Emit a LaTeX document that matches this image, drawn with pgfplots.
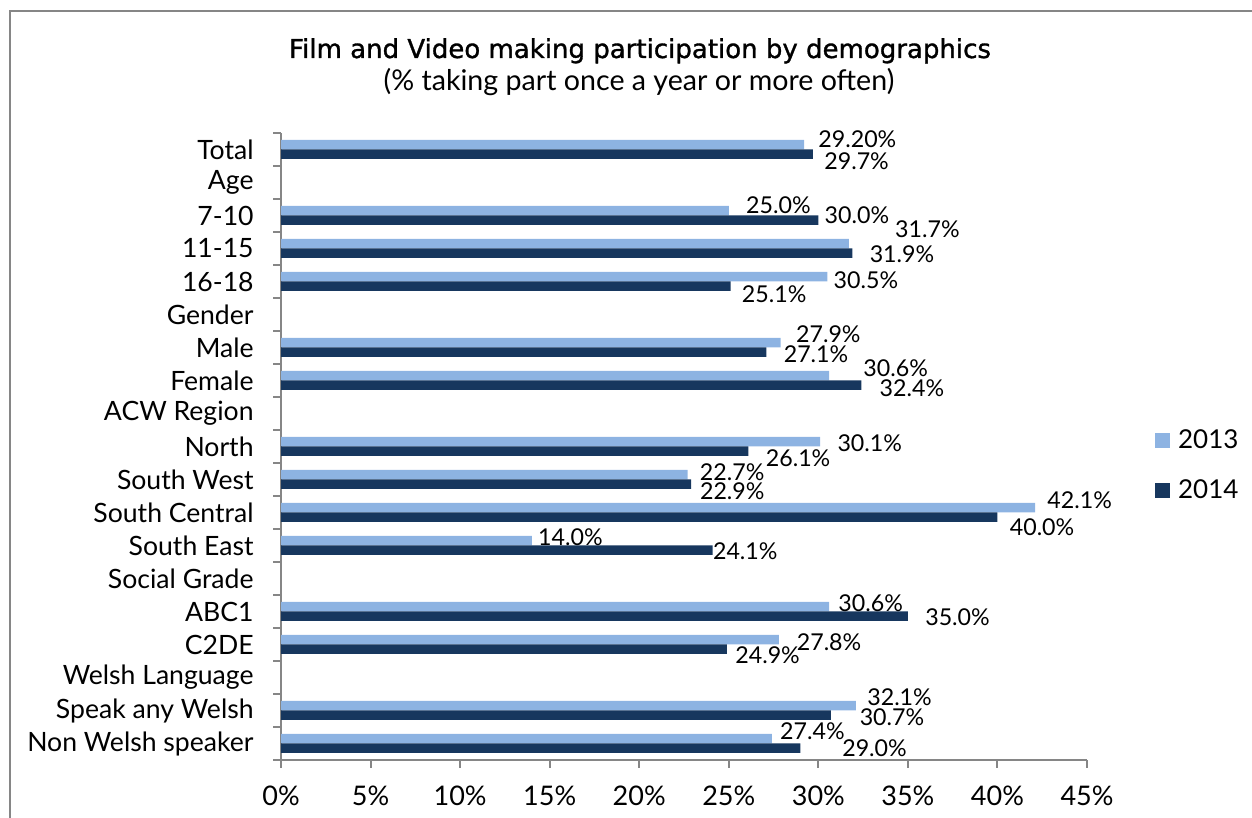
\documentclass[border=0pt]{standalone}
\usepackage{pgfplots}
\pgfplotsset{compat=1.18}
\usepackage{pgfplotstable}
\usepackage{fontspec}
\setmainfont{Lato}
\newfontfamily\titlefont[FakeBold=1.2]{DejaVu Sans}

\definecolor{bar13}{HTML}{8DB3E2}
\definecolor{bar14}{HTML}{17375E}
\definecolor{axgray}{HTML}{868686}

% y: row (18 = Total ... 0 = Non Welsh speaker), x: value, lab: label text,
% dx/dy: hand placement of the label (pt)
\pgfplotstableread{
y x lab dx dy
18 29.2 29.20 7 3
16 25.0 25.0 8.5 3
15 31.7 31.7 23 7.5
14 30.5 30.5 3 -1.75
12 27.9 27.9 7.5 4.25
11 30.6 30.6 17 4
9 30.1 30.1 8.5 -0.75
8 22.7 22.7 6 1.5
7 42.1 42.1 6 4
6 14.0 14.0 3 2
4 30.6 30.6 4.5 1.75
3 27.8 27.8 8.75 -1
1 32.1 32.1 5.5 4.5
0 27.4 27.4 4 3.75
}\dataA

\pgfplotstableread{
y x lab dx dy
18 29.7 29.7 5.5 -3.5
16 30.0 30.0 3 2.5
15 31.9 31.9 8.5 -0.5
14 25.1 25.1 5.5 -4
12 27.1 27.1 8.5 -1
11 32.4 32.4 9 -1.25
9 26.1 26.1 8.5 -3.5
8 22.9 22.9 4.25 -3.5
7 40.0 40.0 6 -5
6 24.1 24.1 0 -0.5
4 35.0 35.0 8.5 -0.25
3 24.9 24.9 4 -3
1 30.7 30.7 14.25 -0.75
0 29.0 29.0 20.75 0
}\dataB

\begin{document}
\begin{tikzpicture}
\useasboundingbox (0,0) rectangle (626pt,409pt);
\draw[axgray, line width=0.75pt] (5pt,-2pt) -- (5pt,403.5pt) -- (630pt,403.5pt);
\node[anchor=base, font=\titlefont\fontsize{13}{15}\selectfont] at (320pt,380pt)
  {Film and Video making participation by demographics};
\node[anchor=base, font=\fontsize{14.3}{16}\selectfont] at (319.5pt,363.5pt)
  {(\% taking part once a year or more often)};
\begin{axis}[
  at={(140.5pt,29pt)}, anchor=south west,
  scale only axis, width=403pt, height=313.5pt,
  xmin=0, xmax=45, ymin=-0.5, ymax=18.5,
  xbar, bar width=4.75pt, clip=false,
  axis x line*=bottom, axis y line*=left,
  axis line style={axgray, line width=1pt, -},
  tick style={axgray, line width=1pt},
  tick align=outside, major tick length=4pt,
  xtick={0,5,...,45},
  xticklabels={0\%,5\%,10\%,15\%,20\%,25\%,30\%,35\%,40\%,45\%},
  xticklabel style={font=\fontsize{13.5}{15}\selectfont, inner sep=0pt, anchor=north, yshift=-9pt},
  ytick={-0.5,0.5,...,18.5}, yticklabels={},
  extra y ticks={0,...,18},
  extra y tick labels={Non Welsh speaker,Speak any Welsh,Welsh Language,C2DE,ABC1,
    Social Grade,South East,South Central,South West,North,ACW Region,Female,Male,
    Gender,16-18,11-15,7-10,Age,Total},
  extra y tick style={major tick length=0pt},
  yticklabel style={font=\fontsize{13.3}{15}\selectfont, inner sep=0pt, anchor=east, xshift=-13.5pt},
  legend style={at={(1.084,0.47)}, anchor=west, draw=none, fill=none, inner sep=0pt,
    font=\fontsize{13}{15}\selectfont, row sep=14pt,
    nodes={inner sep=0pt},
    /tikz/every odd column/.append style={column sep=4pt}},
  legend image code/.code={\fill[#1] (0pt,-3.75pt) rectangle (7.5pt,3.75pt);},
  legend cell align=left,
]
\addplot[fill=bar13, draw=none, bar shift=2.375pt,
  point meta=explicit symbolic,
  nodes near coords={\pgfplotspointmeta\%},
  visualization depends on={\thisrow{dx}\as\dx},
  visualization depends on={\thisrow{dy}\as\dy},
  every node near coord/.append style={anchor=west, inner sep=0pt,
    xshift=\dx pt, yshift=\dy pt, font=\fontsize{11.6}{14}\selectfont, text=black}]
  table[x=x, y=y, meta=lab] {\dataA};
\addlegendentry{2013}
\addplot[fill=bar14, draw=none, bar shift=-2.375pt,
  point meta=explicit symbolic,
  nodes near coords={\pgfplotspointmeta\%},
  visualization depends on={\thisrow{dx}\as\dx},
  visualization depends on={\thisrow{dy}\as\dy},
  every node near coord/.append style={anchor=west, inner sep=0pt,
    xshift=\dx pt, yshift=\dy pt, font=\fontsize{11.6}{14}\selectfont, text=black}]
  table[x=x, y=y, meta=lab] {\dataB};
\addlegendentry{2014}
\end{axis}
\end{tikzpicture}
\end{document}
